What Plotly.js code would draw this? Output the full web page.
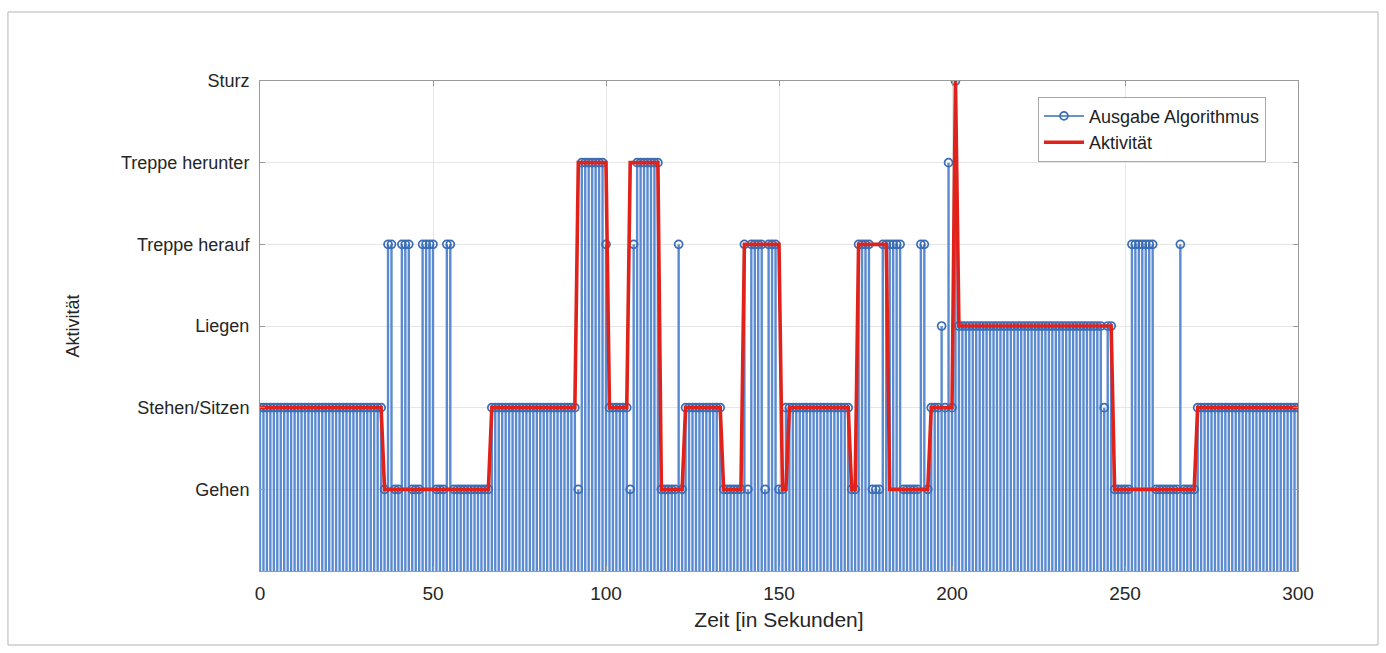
<!DOCTYPE html>
<html><head><meta charset="utf-8">
<script src="https://cdn.plot.ly/plotly-3.0.1.min.js"></script>
<style>html,body{margin:0;padding:0;background:#fff}#chart{width:1386px;height:653px}</style>
</head><body><div id="chart"></div>
<script>
// Activity class labels (y categories) and their codes
const activityLabels = ["Gehen", "Stehen/Sitzen", "Liegen", "Treppe herauf", "Treppe herunter", "Sturz"];
const activityCodes = [1, 2, 3, 4, 5, 6];
const xTickValues = [0, 50, 100, 150, 200, 250, 300];

// Output of the algorithm, one value per second (t = 0 ... 300)
const algorithmOutput = [
  2,2,2,2,2,2,2,2,2,2,  2,2,2,2,2,2,2,2,2,2,  2,2,2,2,2,2,2,2,2,2,   // 0-29
  2,2,2,2,2,2,1,4,4,1,  1,4,4,4,1,1,1,4,4,4,  4,1,1,1,4,4,1,1,1,1,   // 30-59
  1,1,1,1,1,1,1,2,2,2,  2,2,2,2,2,2,2,2,2,2,  2,2,2,2,2,2,2,2,2,2,   // 60-89
  2,2,1,5,5,5,5,5,5,5,  4,2,2,2,2,2,2,1,4,5,  5,5,5,5,5,5,1,1,1,1,   // 90-119
  1,4,1,2,2,2,2,2,2,2,  2,2,2,2,1,1,1,1,1,1,  4,1,4,4,4,4,1,4,4,4,   // 120-149
  1,1,2,2,2,2,2,2,2,2,  2,2,2,2,2,2,2,2,2,2,  2,1,1,4,4,4,4,1,1,1,   // 150-179
  4,4,4,4,4,4,1,1,1,1,  1,4,4,1,2,2,2,3,2,5,  2,6,3,3,3,3,3,3,3,3,   // 180-209
  3,3,3,3,3,3,3,3,3,3,  3,3,3,3,3,3,3,3,3,3,  3,3,3,3,3,3,3,3,3,3,   // 210-239
  3,3,3,3,2,3,3,1,1,1,  1,1,4,4,4,4,4,4,4,1,  1,1,1,1,1,1,4,1,1,1,   // 240-269
  1,2,2,2,2,2,2,2,2,2,  2,2,2,2,2,2,2,2,2,2,  2,2,2,2,2,2,2,2,2,2,   // 270-299
  2                                                                   // 300
];

// True activity, one value per second (t = 0 ... 300)
const activity = [
  2,2,2,2,2,2,2,2,2,2,  2,2,2,2,2,2,2,2,2,2,  2,2,2,2,2,2,2,2,2,2,   // 0-29
  2,2,2,2,2,2,1,1,1,1,  1,1,1,1,1,1,1,1,1,1,  1,1,1,1,1,1,1,1,1,1,   // 30-59
  1,1,1,1,1,1,1,2,2,2,  2,2,2,2,2,2,2,2,2,2,  2,2,2,2,2,2,2,2,2,2,   // 60-89
  2,2,5,5,5,5,5,5,5,5,  5,2,2,2,2,2,2,5,5,5,  5,5,5,5,5,5,1,1,1,1,   // 90-119
  1,1,1,2,2,2,2,2,2,2,  2,2,2,2,1,1,1,1,1,1,  4,4,4,4,4,4,4,4,4,4,   // 120-149
  4,1,1,2,2,2,2,2,2,2,  2,2,2,2,2,2,2,2,2,2,  2,1,1,4,4,4,4,4,4,4,   // 150-179
  4,4,1,1,1,1,1,1,1,1,  1,1,1,1,2,2,2,2,2,2,  2,6,3,3,3,3,3,3,3,3,   // 180-209
  3,3,3,3,3,3,3,3,3,3,  3,3,3,3,3,3,3,3,3,3,  3,3,3,3,3,3,3,3,3,3,   // 210-239
  3,3,3,3,3,3,3,1,1,1,  1,1,1,1,1,1,1,1,1,1,  1,1,1,1,1,1,1,1,1,1,   // 240-269
  1,2,2,2,2,2,2,2,2,2,  2,2,2,2,2,2,2,2,2,2,  2,2,2,2,2,2,2,2,2,2,   // 270-299
  2                                                                   // 300
];

// time axis: sample index in seconds
const time = algorithmOutput.map((_, i) => i);

const stemColor = '#5a8ad0';
const markerColor = '#3a6db6';
const redColor = '#e0221b';
const font = 'Liberation Sans, Arial, sans-serif';

const traces = [
  {
    x: time, y: algorithmOutput, type: 'scatter', mode: 'markers',
    name: 'Ausgabe Algorithmus', showlegend: false, hoverinfo: 'x+y',
    marker: {symbol: 'circle-open', size: 8, color: markerColor, line: {width: 1.7}},
    error_y: {type: 'data', symmetric: false, array: algorithmOutput.map(() => 0),
              arrayminus: algorithmOutput, color: stemColor, thickness: 2.4, width: 0}
  },
  {
    x: [null], y: [null], type: 'scatter', mode: 'lines+markers',
    name: 'Ausgabe Algorithmus',
    line: {color: markerColor, width: 1.5},
    marker: {symbol: 'circle-open', size: 8, color: markerColor, line: {width: 1.7}}
  },
  {
    x: time, y: activity, type: 'scatter', mode: 'lines', name: 'Aktivität',
    line: {color: redColor, width: 3.6}
  }
];

const layout = {
  width: 1386, height: 653,
  margin: {l: 260, r: 88, t: 81, b: 82},
  paper_bgcolor: '#ffffff', plot_bgcolor: '#ffffff',
  font: {family: font, size: 18, color: '#262626'},
  showlegend: true,
  legend: {
    x: 0.7495, y: 0.968, xanchor: 'left', yanchor: 'top',
    bgcolor: '#ffffff', bordercolor: '#a8a8a8', borderwidth: 1,
    font: {family: font, size: 18, color: '#222'},
    tracegroupgap: 0, itemwidth: 40
  },
  xaxis: {
    range: [0, 300], tickvals: xTickValues, ticktext: xTickValues.map(String),
    showgrid: true, gridcolor: '#e6e6e6', gridwidth: 1, zeroline: false,
    showline: true, linecolor: '#9a9a9a', linewidth: 1, mirror: 'ticks',
    ticks: 'inside', ticklen: 5, tickcolor: '#9a9a9a', ticklabelstandoff: 5,
    tickfont: {family: font, size: 19, color: '#262626'},
    title: {text: 'Zeit [in Sekunden]', font: {family: font, size: 21, color: '#262626'}, standoff: 9}
  },
  yaxis: {
    range: [0, 6], tickvals: activityCodes, ticktext: activityLabels,
    showgrid: true, gridcolor: '#e6e6e6', gridwidth: 1, zeroline: false,
    showline: true, linecolor: '#9a9a9a', linewidth: 1, mirror: 'ticks',
    ticks: 'inside', ticklen: 5, tickcolor: '#9a9a9a', ticklabelstandoff: 6,
    tickfont: {family: font, size: 18, color: '#262626'},
    title: {text: 'Aktivität', font: {family: font, size: 18, color: '#262626'}, standoff: 36}
  },
  shapes: [
    {type: 'rect', xref: 'paper', yref: 'paper', x0: -0.2428, x1: 1.0771, y0: -0.151, y1: 1.1408,
     line: {color: '#b4b4b4', width: 1}, fillcolor: 'rgba(0,0,0,0)', layer: 'below'}
  ]
};

Plotly.newPlot('chart', traces, layout, {displayModeBar: false, staticPlot: true});
</script>
</body></html>
